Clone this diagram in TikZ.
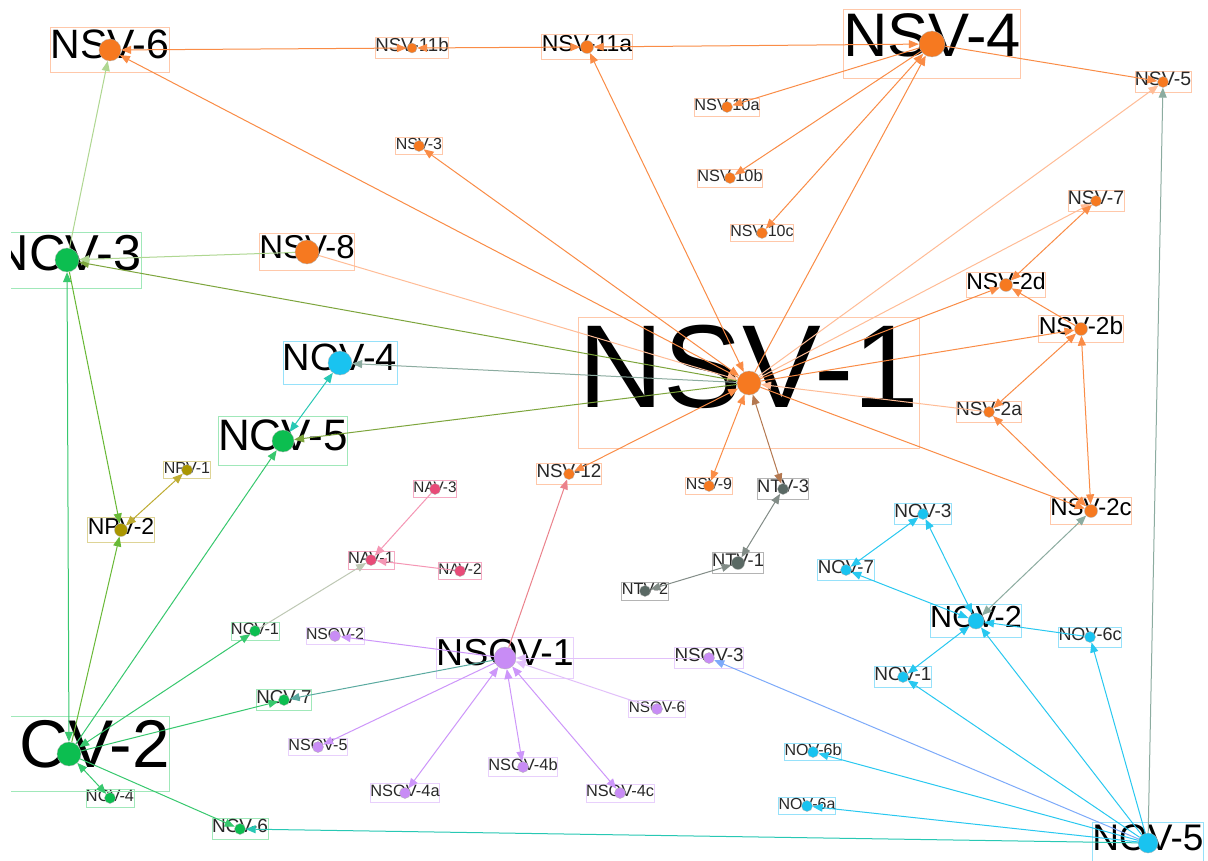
\documentclass[tikz,border=0pt]{standalone}
\usepackage{fontspec}
\setmainfont{Liberation Sans}
\usetikzlibrary{arrows.meta}
\pgfdeclarelayer{bg}\pgfdeclarelayer{fg}
\pgfsetlayers{bg,main,fg}
% node colours
\definecolor{cO}{RGB}{246,121,32}\definecolor{bO}{RGB}{255,200,170}
\definecolor{cG}{RGB}{12,190,80}\definecolor{bG}{RGB}{160,232,185}
\definecolor{cC}{RGB}{25,195,240}\definecolor{bC}{RGB}{150,225,250}
\definecolor{cP}{RGB}{200,140,245}\definecolor{bP}{RGB}{232,208,252}
\definecolor{cK}{RGB}{232,75,120}\definecolor{bK}{RGB}{245,170,195}
\definecolor{cY}{RGB}{170,150,0}\definecolor{bY}{RGB}{222,212,150}
\definecolor{cT}{RGB}{90,105,100}\definecolor{bT}{RGB}{180,180,180}
\definecolor{tS}{RGB}{40,40,40}
% edge colours
\definecolor{eO}{RGB}{250,140,70}\definecolor{eOl}{RGB}{255,188,150}
\definecolor{eG}{RGB}{55,200,110}\definecolor{eGl}{RGB}{175,215,145}
\definecolor{eGO}{RGB}{125,165,60}\definecolor{eGY}{RGB}{105,185,55}
\definecolor{eC}{RGB}{40,200,240}\definecolor{eTeal}{RGB}{40,200,180}
\definecolor{eGT}{RGB}{140,172,160}\definecolor{eBlue}{RGB}{125,170,250}
\definecolor{eP}{RGB}{205,150,250}\definecolor{ePl}{RGB}{226,192,250}
\definecolor{eK}{RGB}{245,150,180}\definecolor{eR}{RGB}{235,130,140}
\definecolor{eY}{RGB}{190,172,50}\definecolor{eT}{RGB}{130,140,135}
\definecolor{eBr}{RGB}{180,120,80}\definecolor{eGr}{RGB}{190,200,180}
\definecolor{eTG}{RGB}{90,170,160}
\tikzset{
 dotnode/.style={circle, inner sep=0pt, draw=black!30, line width=0.3pt},
 lbl/.style={inner sep=0pt, line width=0.9pt},
 ar/.style={line width=1pt, draw=#1, -{Triangle[length=10pt,width=8pt]}},
 arr/.style={line width=1pt, draw=#1, {Triangle[length=10pt,width=8pt]}-{Triangle[length=10pt,width=8pt]}},
}
\newcommand\mknode[9]{%
 \begin{pgfonlayer}{fg}\node[dotnode, fill=#5, minimum size=#4pt] (#1) at (#2,#3) {};\end{pgfonlayer}%
 \begin{pgfonlayer}{bg}\node[lbl, draw=#6, text=#9, font=\fontsize{#7pt}{#7pt}\selectfont, text height={#7pt*0.76}, text depth={#7pt*0.35}] (#1l) at (#2,#3) {#8};\end{pgfonlayer}}
\begin{document}
\begin{tikzpicture}[x=1pt,y=-1pt]
\useasboundingbox (0,0) rectangle (1208,861);
\begin{pgfonlayer}{bg}\fill[white] (0,0) rectangle (1208,861);\end{pgfonlayer}
% orange
\mknode{nsvA}{749}{383}{24}{cO}{bO}{118}{NSV-1}{black}
\mknode{nsvF}{110}{50}{22}{cO}{bO}{41}{NSV-6}{black}
\mknode{nsvKb}{412}{48}{10}{cO}{bO}{18.7}{NSV-11b}{tS}
\mknode{nsvKa}{587}{47}{13}{cO}{bO}{23}{NSV-11a}{black}
\mknode{nsvD}{932}{44}{26}{cO}{bO}{61.5}{NSV-4}{black}
\mknode{nsvE}{1163}{82}{11}{cO}{bO}{19.4}{NSV-5}{tS}
\mknode{nsvJa}{727}{107}{11}{cO}{bO}{16.3}{NSV-10a}{tS}
\mknode{nsvC}{419}{146}{11}{cO}{bO}{16}{NSV-3}{tS}
\mknode{nsvJb}{730}{178}{11}{cO}{bO}{16.3}{NSV-10b}{tS}
\mknode{nsvJc}{762}{233}{11}{cO}{bO}{16}{NSV-10c}{tS}
\mknode{nsvG}{1096}{201}{11}{cO}{bO}{19.4}{NSV-7}{tS}
\mknode{nsvH}{307}{252}{24}{cO}{bO}{33}{NSV-8}{black}
\mknode{nsvBd}{1006}{285}{13}{cO}{bO}{23}{NSV-2d}{black}
\mknode{nsvBb}{1081}{329}{13}{cO}{bO}{24.5}{NSV-2b}{black}
\mknode{nsvBa}{989}{412}{11}{cO}{bO}{19.1}{NSV-2a}{tS}
\mknode{nsvL}{569}{474}{11}{cO}{bO}{18.8}{NSV-12}{tS}
\mknode{nsvI}{709}{486}{11}{cO}{bO}{16}{NSV-9}{tS}
\mknode{nsvBc}{1091}{511}{13}{cO}{bO}{24}{NSV-2c}{black}
% gray
\mknode{ntvC}{783}{489}{11}{cT}{bT}{18.3}{NTV-3}{tS}
\mknode{ntvA}{738}{563}{13}{cT}{bT}{18.3}{NTV-1}{tS}
\mknode{ntvB}{645}{591}{11}{cT}{bT}{16.3}{NTV-2}{tS}
% pink
\mknode{navC}{435}{489}{11}{cK}{bK}{15.3}{NAV-3}{tS}
\mknode{navA}{371}{560}{11}{cK}{bK}{16.3}{NAV-1}{tS}
\mknode{navB}{460}{571}{11}{cK}{bK}{15.3}{NAV-2}{tS}
% olive
\mknode{npvA}{187}{470}{11}{cY}{bY}{16}{NPV-1}{tS}
\mknode{npvB}{121}{530}{13}{cY}{bY}{23}{NPV-2}{black}
% green
\mknode{ncvE}{283}{441}{22}{cG}{bG}{44}{NCV-5}{black}
\mknode{ncvA}{255}{631}{11}{cG}{bG}{16.3}{NCV-1}{tS}
\mknode{ncvG}{284}{700}{11}{cG}{bG}{18.7}{NCV-7}{tS}
\mknode{ncvD}{110}{798}{11}{cG}{bG}{16.3}{NCV-4}{tS}
\mknode{ncvF}{240}{829}{11}{cG}{bG}{19}{NCV-6}{tS}
\begin{pgfonlayer}{fg}
\node[dotnode, fill=cG, minimum size=24pt] (ncvC) at (67,260) {};
\node[dotnode, fill=cG, minimum size=24pt] (cvB) at (69,754) {};
\end{pgfonlayer}
\begin{pgfonlayer}{bg}
\begin{scope}
\clip (11,0) rectangle (1208,861);
\node[lbl, draw=bG, font=\fontsize{50.5pt}{50.5pt}\selectfont, text height={50.5pt*0.76}, text depth={50.5pt*0.35}] (ncvCl) at (67,260) {NCV-3};
\node[lbl, draw=bG, anchor=east, text width=202.5pt, align=right, font=\fontsize{67.5pt}{67.5pt}\selectfont, text height={67.5pt*0.76}, text depth={67.5pt*0.35}] (cvBl) at (170.25,754) {CV-2};
\end{scope}
\end{pgfonlayer}
% purple
\mknode{nsovA}{505}{658}{22}{cP}{bP}{37.5}{NSOV-1}{black}
\mknode{nsovB}{335}{636}{11}{cP}{bP}{15.8}{NSOV-2}{tS}
\mknode{nsovC}{709}{658}{11}{cP}{bP}{18.8}{NSOV-3}{tS}
\mknode{nsovF}{657}{709}{11}{cP}{bP}{15.3}{NSOV-6}{tS}
\mknode{nsovE}{318}{747}{11}{cP}{bP}{16.1}{NSOV-5}{tS}
\mknode{nsovDb}{523}{767}{11}{cP}{bP}{16.4}{NSOV-4b}{tS}
\mknode{nsovDa}{405}{793}{11}{cP}{bP}{16.4}{NSOV-4a}{tS}
\mknode{nsovDc}{620}{793}{11}{cP}{bP}{16.3}{NSOV-4c}{tS}
% cyan
\mknode{novD}{340}{363}{24}{cC}{bC}{38}{NOV-4}{black}
\mknode{novC}{923}{514}{11}{cC}{bC}{19}{NOV-3}{tS}
\mknode{novG}{846}{570}{11}{cC}{bC}{18.7}{NOV-7}{tS}
\mknode{novB}{976}{621}{16}{cC}{bC}{30.5}{NOV-2}{black}
\mknode{novFc}{1090}{637}{11}{cC}{bC}{18}{NOV-6c}{tS}
\mknode{novA}{903}{677}{11}{cC}{bC}{19}{NOV-1}{tS}
\mknode{novFb}{813}{752}{11}{cC}{bC}{16}{NOV-6b}{tS}
\mknode{novFa}{807}{806}{11}{cC}{bC}{16}{NOV-6a}{tS}
\mknode{novE}{1148}{843}{20}{cC}{bC}{37}{NOV-5}{black}
% ---- edges ----
% orange
\draw[arr=eO] (nsvF) -- (nsvKb);
\draw[arr=eO] (nsvKb) -- (nsvKa);
\draw[arr=eO] (nsvKa) -- (nsvD);
\draw[ar=eO] (nsvA) -- (nsvF);
\draw[arr=eO] (nsvA) -- (nsvKa);
\draw[arr=eO] (nsvA) -- (nsvC);
\draw[ar=eO] (nsvA) -- (nsvD);
\draw[ar=eO] (nsvD) -- (nsvJa);
\draw[ar=eO] (nsvD) -- (nsvJb);
\draw[arr=eO] (nsvD) -- (nsvJc);
\draw[ar=eO] (nsvD) -- (nsvE);
\draw[ar=eOl] (nsvA) -- (nsvE);
\draw[ar=eOl] (nsvA) -- (nsvG);
\draw[arr=eO] (nsvBd) -- (nsvG);
\draw[ar=eO] (nsvA) -- (nsvBd);
\draw[ar=eO] (nsvBb) -- (nsvBd);
\draw[ar=eO] (nsvA) -- (nsvBb);
\draw[arr=eO] (nsvBb) -- (nsvBa);
\draw[arr=eO] (nsvBc) -- (nsvBa);
\draw[arr=eO] (nsvBb) -- (nsvBc);
\draw[ar=eO] (nsvA) -- (nsvBc);
\draw[ar=eOl] (nsvBa) -- (nsvA);
\draw[arr=eO] (nsvA) -- (nsvL);
\draw[arr=eO] (nsvA) -- (nsvI);
\draw[arr=eBr] (nsvA) -- (ntvC);
\draw[ar=eR] (nsovA) -- (nsvL);
\draw[ar=eOl] (nsvH) -- (nsvA);
\draw[ar=eGO] (nsvA) -- (ncvC);
\draw[ar=eGl] (nsvH) -- (ncvC);
\draw[ar=eGl] (ncvC) -- (nsvF);
\draw[ar=eGT] (nsvA) -- (novD);
\draw[ar=eGO] (nsvA) -- (ncvE);
% green
\draw[arr=eTeal] (ncvE) -- (novD);
\draw[ar=eG] (cvB) -- (ncvE);
\draw[arr=eG] (cvB) -- (ncvC);
\draw[ar=eGY] (ncvC) -- (npvB);
\draw[ar=eGY] (cvB) -- (npvB);
\draw[arr=eY] (npvA) -- (npvB);
\draw[arr=eG] (cvB) -- (ncvA);
\draw[arr=eG] (cvB) -- (ncvD);
\draw[ar=eG] (cvB) -- (ncvG);
\draw[ar=eTG] (nsovA) -- (ncvG);
\draw[ar=eG] (cvB) -- (ncvF);
\draw[ar=eTeal] (novE) -- (ncvF);
\draw[ar=eGr] (ncvA) -- (navA);
\draw[ar=eK] (navC) -- (navA);
\draw[ar=eK] (navB) -- (navA);
% purple
\draw[ar=eP] (nsovA) -- (nsovB);
\draw[ar=eP] (nsovA) -- (nsovE);
\draw[arr=eP] (nsovA) -- (nsovDa);
\draw[arr=eP] (nsovA) -- (nsovDb);
\draw[arr=eP] (nsovA) -- (nsovDc);
\draw[ar=ePl] (nsovF) -- (nsovA);
\draw[ar=ePl] (nsovC) -- (nsovA);
\draw[ar=eBlue] (novE) -- (nsovC);
% gray
\draw[arr=eT] (ntvA) -- (ntvC);
\draw[arr=eT] (ntvA) -- (ntvB);
% cyan
\draw[arr=eC] (novB) -- (novC);
\draw[arr=eC] (novC) -- (novG);
\draw[arr=eC] (novG) -- (novB);
\draw[ar=eC] (novFc) -- (novB);
\draw[arr=eC] (novB) -- (novA);
\draw[ar=eC] (novE) -- (novA);
\draw[ar=eC] (novE) -- (novB);
\draw[ar=eC] (novE) -- (novFc);
\draw[ar=eC] (novE) -- (novFb);
\draw[ar=eC] (novE) -- (novFa);
\draw[arr=eGT] (novB) -- (nsvBc);
\draw[ar=eGT] (novE) -- (nsvE);
\end{tikzpicture}
\end{document}
